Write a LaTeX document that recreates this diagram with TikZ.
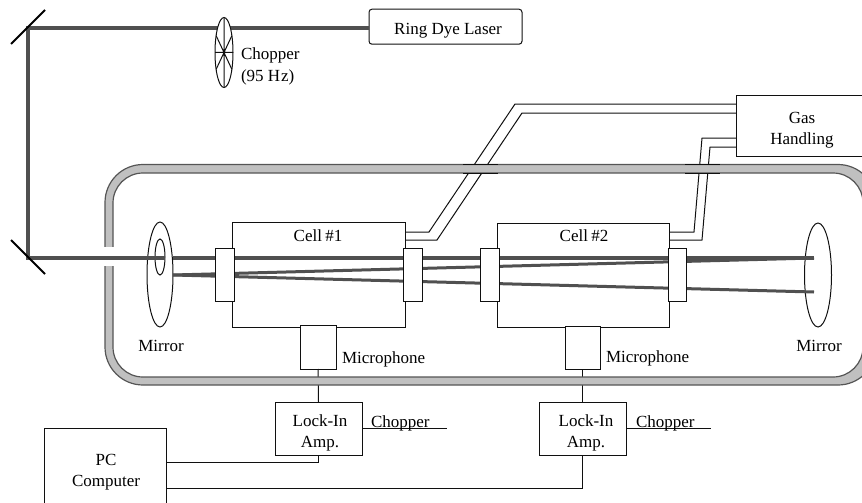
\documentclass[tikz,border=0pt]{standalone}
\usepackage{fontspec}
\setmainfont{Liberation Serif}
\usetikzlibrary{shapes.geometric,calc}
\definecolor{beamgray}{HTML}{505050}
\definecolor{wallfill}{HTML}{C0C0C0}
\definecolor{walledge}{HTML}{555555}
\definecolor{ink}{HTML}{101010}
\tikzset{
  thinline/.style={draw=ink,line width=1pt},
  boxnode/.style={thinline,fill=white,inner sep=0pt,outer sep=0pt,rectangle},
  ovalnode/.style={thinline,ellipse,inner sep=0pt,outer sep=0pt},
  beam/.style={draw=beamgray,line width=4.4pt},
  beamthin/.style={draw=beamgray,line width=3pt},
  mirrorbar/.style={draw=black,line width=2pt},
  txt/.style={inner sep=0pt,outer sep=0pt,align=center,font=\fontsize{17}{21.5}\selectfont},
  edgemark/.style={draw=ink,line width=0.8pt},
}
\begin{document}
\begin{tikzpicture}[x=1pt,y=-1pt]
\clip (0,0) rectangle (862,503);
% coordinates
\coordinate (turnA) at (28,28);
\coordinate (turnB) at (28,258);
\coordinate (focus) at (814,258);
\coordinate (focusB) at (814,292);
\coordinate (reflect) at (173,275);
\coordinate (tubeAa) at (429,232);
\coordinate (tubeAb) at (515,104);
\coordinate (tubeBa) at (437,240);
\coordinate (tubeBb) at (522,113);
\coordinate (tubeCa) at (694,232);
\coordinate (tubeCb) at (702,138);
\coordinate (tubeDa) at (702,240);
\coordinate (tubeDb) at (710,147);
\coordinate (beamRestart) at (173,258);
% boxes
\node[boxnode,minimum width=173pt,minimum height=105pt] (cellA) at (318.5,274.5) {};
\node[boxnode,minimum width=172pt,minimum height=104pt] (cellB) at (583,275) {};
\node[boxnode,minimum width=132pt,minimum height=61pt] (gas) at (802,125.5) {};
\node[boxnode,minimum width=36pt,minimum height=44pt] (micA) at (318,347) {};
\node[boxnode,minimum width=35pt,minimum height=43pt] (micB) at (582.5,347.5) {};
\node[boxnode,minimum width=87pt,minimum height=53pt] (lockA) at (318.5,428.5) {};
\node[boxnode,minimum width=87pt,minimum height=53pt] (lockB) at (582.5,428.5) {};
\node[boxnode,minimum width=122pt,minimum height=90pt] (pc) at (105,473) {};
\node[boxnode,rounded corners=3pt,minimum width=153pt,minimum height=35pt] (laser) at (445.5,26.7) {};
\coordinate (chopA) at ($(lockA.east)+(85pt,0)$);
\coordinate (chopB) at ($(lockB.east)+(85pt,0)$);
% thin connectors (hidden behind the wall)
\draw[thinline] ([yshift=42.5pt]cellA.east) -- (tubeAa) -- (tubeAb) -- (tubeAb -| gas.west);
\draw[thinline] ([yshift=34.5pt]cellA.east) -- (tubeBa) -- (tubeBb) -- (tubeBb -| gas.west);
\draw[thinline] ([yshift=43pt]cellB.east) -- (tubeCa) -- (tubeCb) -- (tubeCb -| gas.west);
\draw[thinline] ([yshift=35pt]cellB.east) -- (tubeDa) -- (tubeDb) -- (tubeDb -| gas.west);
\draw[thinline] (micA.south) -- (lockA.north);
\draw[thinline] (micB.south) -- (lockB.north);
\draw[thinline] (lockA.south) |- ([yshift=11pt]pc.east);
\draw[thinline] (lockB.south) |- ([yshift=-15pt]pc.east);
\draw[thinline] (lockA.east) -- (chopA);
\draw[thinline] (lockB.east) -- (chopB);
% wall
\path[fill=wallfill,draw=walledge,line width=1.2pt,even odd rule]
  [rounded corners=38pt] (105,164.5) rectangle (876,385)
  [rounded corners=30pt] (113,173) rectangle (863,377);
\fill[white] (103,247) rectangle (115,266);
\draw[edgemark] (463,164.5) -- (498,164.5) (463,173) -- (498,173);
\draw[edgemark] (685,164.5) -- (720,164.5) (685,173) -- (720,173);
% mirrors
\node[ovalnode,minimum width=26pt,minimum height=105pt] (mirL) at (160,274.5) {};
\node[ovalnode,minimum width=10pt,minimum height=36pt] (mirLin) at (160,257) {};
\node[ovalnode,minimum width=27pt,minimum height=104pt] (mirR) at (818,275) {};
% beams
\draw[beam,line join=miter] (laser.west |- turnA) -- (turnA) -- (turnB) -- (mirLin.east |- turnB);
\draw[beam] (beamRestart) -- (focus);
\draw[beamthin] (reflect) -- (focus);
\draw[beamthin] (reflect) -- (focusB);
% windows
\node[boxnode,minimum width=19pt,minimum height=53pt] (winA) at (224.5,274.5) {};
\node[boxnode,minimum width=19pt,minimum height=53pt] (winB) at (412.5,274.5) {};
\node[boxnode,minimum width=19pt,minimum height=53pt] (winC) at (489.5,274.5) {};
\node[boxnode,minimum width=18pt,minimum height=53pt] (winD) at (677,274.5) {};
% turning mirrors
\draw[mirrorbar] (11,44) -- (45,10);
\draw[mirrorbar] (11,240) -- (45,274);
% chopper wheel
\node[ovalnode,fill=white,minimum width=18pt,minimum height=70pt] (chop) at (224,52.5) {};
\draw[thinline] (chop.north) -- (chop.south) (chop.west) -- (chop.east)
  (chop.65) -- (chop.245) (chop.115) -- (chop.295);
% labels
\node[txt] (tLaser) at (448,31) {Ring Dye Laser};
\node[txt,anchor=west,align=left] (tChop) at (241,66.5) {Chopper\\(95 H\kern1pt z)};
\node[txt] (tGas) at (802,130) {Gas\\Handling};
\node[txt] (tCellA) at (318,236) {Cell \kern-1pt\#1};
\node[txt] (tCellB) at (584,236) {Cell \kern-1pt\#2};
\node[txt] (tMirL) at (161,346) {Mirror};
\node[txt] (tMirR) at (819,346) {Mirror};
\node[txt,anchor=west] (tMicA) at (342,359.5) {Microphone};
\node[txt,anchor=west] (tMicB) at (606,358.5) {Microphone};
\node[txt] (tLockA) at (320,433) {Lock-In\\Amp.};
\node[txt] (tLockB) at (586,433) {Lock-In\\Amp.};
\node[txt,anchor=west] (tChA) at (371,423) {Chopper};
\node[txt,anchor=west] (tChB) at (636,423) {Chopper};
\node[txt] (tPC) at (106,472) {PC\\Computer};
\end{tikzpicture}
\end{document}
